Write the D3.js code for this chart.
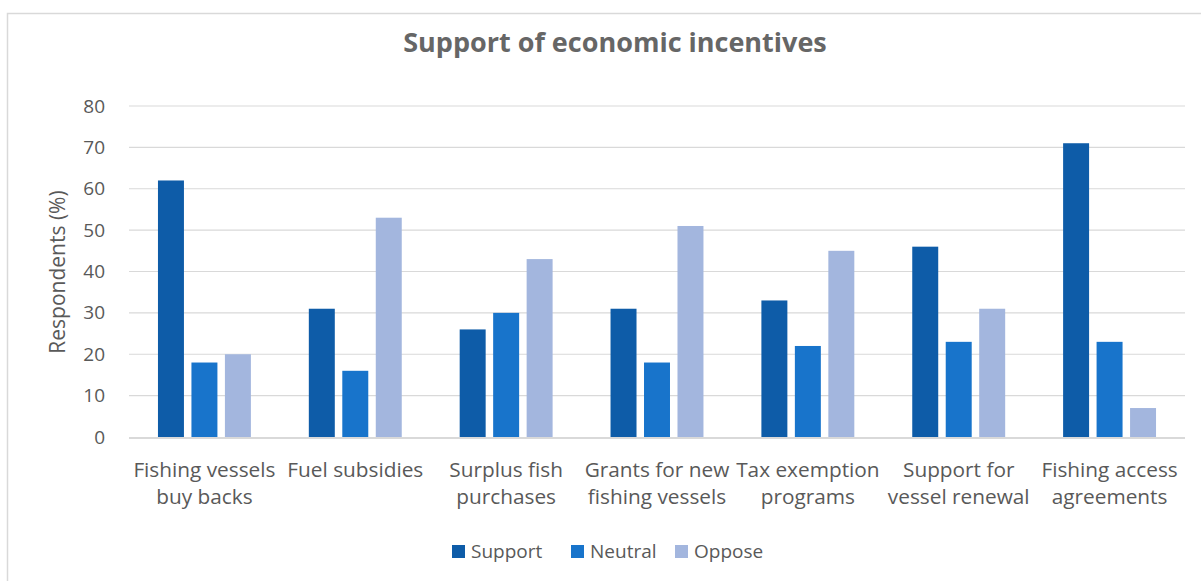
<!DOCTYPE html>
<html lang="en">
<head>
<meta charset="UTF-8">
<title>Support of economic incentives</title>
<script src="https://d3js.org/d3.v7.min.js"></script>
<style>
  body { margin: 0; background: #fff; }
  text { font-family: "Open Sans", Lato, sans-serif; fill: #595959; }
  .tick text { font-size: 19px; }
</style>
</head>
<body>
<svg width="1201" height="581"></svg>
<script>
const categories = [
  ["Fishing vessels", "buy backs"],
  ["Fuel subsidies"],
  ["Surplus fish", "purchases"],
  ["Grants for new", "fishing vessels"],
  ["Tax exemption", "programs"],
  ["Support for", "vessel renewal"],
  ["Fishing access", "agreements"]
];
const seriesNames = ["Support", "Neutral", "Oppose"];
const support = [62, 31, 26, 31, 33, 46, 71];
const neutral = [18, 16, 30, 18, 22, 23, 23];
const oppose  = [20, 53, 43, 51, 45, 31, 7];
const yTicks = [0, 10, 20, 30, 40, 50, 60, 70, 80];
const colors = ["#0e5ca8", "#1874cb", "#a3b6de"];

const seriesValues = [support, neutral, oppose];
const catKeys = categories.map(c => c.join(" "));

const svg = d3.select("svg");

// frame (runs off the right and bottom edges, as in the original)
svg.append("rect")
    .attr("x", 7.5).attr("y", 13.5)
    .attr("width", 1300).attr("height", 700)
    .attr("fill", "none")
    .attr("stroke", "#d9d9d9")
    .attr("stroke-width", 1.5);

const plot = { left: 129, right: 1185, top: 106, bottom: 437 };

const x0 = d3.scaleBand()
    .domain(catKeys)
    .range([plot.left, plot.right])
    .paddingInner(0.384)
    .paddingOuter(0.192);

const x1 = d3.scaleBand()
    .domain(seriesNames)
    .range([0, x0.bandwidth()])
    .paddingInner(0.224)
    .paddingOuter(0);

const y = d3.scaleLinear()
    .domain([0, 80])
    .range([plot.bottom, plot.top]);

// gridlines
svg.append("g")
    .selectAll("line")
    .data(yTicks.slice(1))
    .join("line")
    .attr("x1", plot.left).attr("x2", plot.right)
    .attr("y1", d => y(d)).attr("y2", d => y(d))
    .attr("stroke", "#d9d9d9")
    .attr("stroke-width", 1.2);

// y axis labels
const yAxis = svg.append("g")
    .attr("transform", `translate(${plot.left},0)`)
    .call(d3.axisLeft(y).tickValues(yTicks).tickSize(0).tickPadding(24));
yAxis.select(".domain").remove();

// bars
const groups = svg.append("g")
    .selectAll("g")
    .data(catKeys)
    .join("g")
    .attr("transform", d => `translate(${x0(d)},0)`);

groups.selectAll("rect")
    .data((d, i) => seriesNames.map((s, j) => ({ s, v: seriesValues[j][i], j })))
    .join("rect")
    .attr("x", d => x1(d.s))
    .attr("width", x1.bandwidth())
    .attr("y", d => y(d.v))
    .attr("height", d => y(0) - y(d.v))
    .attr("fill", d => colors[d.j]);

// x axis line
svg.append("line")
    .attr("x1", plot.left).attr("x2", plot.right)
    .attr("y1", y(0) + 1).attr("y2", y(0) + 1)
    .attr("stroke", "#d9d9d9")
    .attr("stroke-width", 2);

// x labels, two lines each
const xLabels = svg.append("g")
    .selectAll("text")
    .data(categories)
    .join("text")
    .attr("text-anchor", "middle")
    .attr("font-size", 20.8)
    .attr("x", (d, i) => x0(catKeys[i]) + x0.bandwidth() / 2)
    .attr("y", 477);
xLabels.selectAll("tspan")
    .data(d => d)
    .join("tspan")
    .attr("x", function () { return d3.select(this.parentNode).attr("x"); })
    .attr("dy", (d, i) => i === 0 ? 0 : 27)
    .text(d => d);

// y axis title
svg.append("text")
    .attr("transform", `translate(65,272) rotate(-90)`)
    .attr("text-anchor", "middle")
    .attr("font-size", 21)
    .text("Respondents (%)");

// title
svg.append("text")
    .attr("x", 615)
    .attr("y", 52)
    .attr("text-anchor", "middle")
    .attr("font-size", 27)
    .attr("font-weight", "bold")
    .attr("fill", "#666")
    .style("fill", "#666")
    .text("Support of economic incentives");

// legend
const legendX = [452, 571, 675];
const legend = svg.append("g")
    .selectAll("g")
    .data(seriesNames)
    .join("g")
    .attr("transform", (d, i) => `translate(${legendX[i]},545)`);
legend.append("rect")
    .attr("width", 13).attr("height", 13)
    .attr("fill", (d, i) => colors[i]);
legend.append("text")
    .attr("x", 19).attr("y", 13)
    .attr("font-size", 19)
    .text(d => d);
</script>
</body>
</html>
